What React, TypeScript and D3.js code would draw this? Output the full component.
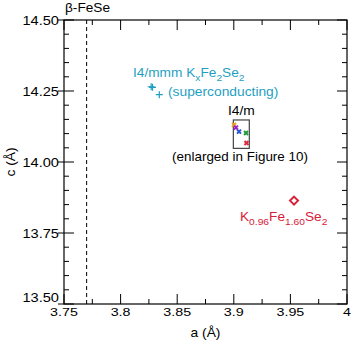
import React from "react";
import * as d3 from "d3";

// chart data
const xTicks = [3.75, 3.8, 3.85, 3.9, 3.95, 4];
const xTickLabels = ["3.75", "3.8", "3.85", "3.9", "3.95", "4"];
const yTicks = [13.5, 13.75, 14.0, 14.25, 14.5];
const betaFeSeA = 3.77;

// I4/mmm KxFe2Se2 (superconducting)
const i4mmmA = [3.827, 3.8282, 3.8342];
const i4mmmC = [14.265, 14.263, 14.237];

// I4/m points (inside the enlarged box)
const i4mA = [3.9002, 3.9019, 3.9046, 3.9108, 3.9112];
const i4mC = [14.13, 14.121, 14.107, 14.102, 14.067];
const i4mColors = ["#e8a020", "#9a20c8", "#2456d0", "#1f9a3a", "#e0283c"];
const boxA = [3.8996, 3.9137];
const boxC = [14.048, 14.148];

// K0.96Fe1.60Se2
const k096A = 3.9532;
const k096C = 13.864;

const W = 353;
const H = 344;
const m = { left: 64, right: 6, top: 20, bottom: 40 };
const font = "'Liberation Sans', Arial, sans-serif";

// text that is stretched sideways like the reference's
const T = ({ x, y, fs = 12, sx = 1.12, anchor = "start", fill = "#000", children }: any) => (
  <text transform={`translate(${x},${y}) scale(${sx},1)`} fontSize={fs} textAnchor={anchor} fill={fill}>
    {children}
  </text>
);

const App = () => {
  const x = d3.scaleLinear().domain([3.75, 4]).range([m.left, W - m.right]);
  const y = d3.scaleLinear().domain([13.5, 14.5]).range([H - m.bottom, m.top]);
  const x0 = x.range()[0], x1 = x.range()[1];
  const y0 = y.range()[0], y1 = y.range()[1];

  const xMinor = d3.range(3.75, 4.0001, 0.025);
  const yMinor = d3.range(13.5, 14.5001, 0.05);
  const isMajorX = (v) => xTicks.some((t) => Math.abs(t - v) < 1e-6);
  const isMajorY = (v) => yTicks.some((t) => Math.abs(t - v) < 1e-6);

  const cyan = "#1f9fc2";
  const red = "#d8203a";

  return (
    <svg width={W} height={H} style={{ position: "absolute", left: 0, top: 0, background: "#fff" }} fontFamily={font}>
      {/* ticks */}
      {xMinor.map((v, i) => {
        const len = isMajorX(v) ? 10 : 5;
        return (
          <g key={"xt" + i} stroke="#000" strokeWidth={1}>
            <line x1={x(v)} x2={x(v)} y1={y0} y2={y0 - len} />
            <line x1={x(v)} x2={x(v)} y1={y1} y2={y1 + len} />
          </g>
        );
      })}
      {yMinor.map((v, i) => {
        const len = isMajorY(v) ? 10 : 5;
        return (
          <g key={"yt" + i} stroke="#000" strokeWidth={1}>
            <line x1={x0 - (isMajorY(v) ? 6 : 0)} x2={x0 + len} y1={y(v)} y2={y(v)} />
            <line x1={x1} x2={x1 - len} y1={y(v)} y2={y(v)} />
          </g>
        );
      })}
      {/* frame */}
      <rect x={x0} y={y1} width={x1 - x0} height={y0 - y1} fill="none" stroke="#000" strokeWidth={1.2} />

      {/* tick labels */}
      {xTicks.map((v, i) => (
        <T key={"xl" + v} x={x(v)} y={y0 + 12} fs={11} sx={1.3} anchor="middle">{xTickLabels[i]}</T>
      ))}
      {yTicks.map((v, i) => (
        <T key={"yl" + v} x={x0 - 5} y={y(v) + (i === 0 ? -2 : 4.5)} fs={12} sx={1.22} anchor="end">
          {v.toFixed(2)}
        </T>
      ))}

      {/* axis titles */}
      <T x={(x0 + x1) / 2} y={H - 7} fs={12} sx={1.15} anchor="middle">a (Å)</T>
      <text transform={`translate(15,${(y0 + y1) / 2}) rotate(-90) scale(1.15,1)`} fontSize={12} textAnchor="middle">c (Å)</text>

      {/* beta-FeSe dashed line */}
      <line x1={x(betaFeSeA)} x2={x(betaFeSeA)} y1={y1} y2={y0} stroke="#000" strokeWidth={1} strokeDasharray="4,3" />
      <T x={65} y={12} fs={12} sx={1.14}>β-FeSe</T>

      {/* I4/mmm pluses */}
      {i4mmmA.map((a, i) => (
        <path key={"p" + i} d={`M${x(a) - 3.5},${y(i4mmmC[i])}h7M${x(a)},${y(i4mmmC[i]) - 3.5}v7`} stroke={cyan} strokeWidth={1.2} />
      ))}
      <T x={133} y={77} fs={12} sx={1.14} fill={cyan}>
        I4/mmm K<tspan fontSize={9} dy={3.5}>x</tspan>
        <tspan dy={-3.5}>Fe</tspan><tspan fontSize={9} dy={3.5}>2</tspan>
        <tspan dy={-3.5}>Se</tspan><tspan fontSize={9} dy={3.5}>2</tspan>
      </T>
      <T x={168} y={96} fs={12} sx={1.15} fill={cyan}>(superconducting)</T>

      {/* I4/m box */}
      <T x={x((boxA[0] + boxA[1]) / 2)} y={115} fs={12} sx={1.15} anchor="middle">I4/m</T>
      <rect x={x(boxA[0])} y={y(boxC[1])} width={x(boxA[1]) - x(boxA[0])} height={y(boxC[0]) - y(boxC[1])}
        fill="none" stroke="#444" strokeWidth={1.2} />
      {i4mA.map((a, i) => (
        <path key={"m" + i} d={`M${x(a) - 2},${y(i4mC[i]) - 2}l4,4M${x(a) + 2},${y(i4mC[i]) - 2}l-4,4`}
          stroke={i4mColors[i]} strokeWidth={2} />
      ))}
      <T x={240} y={161} fs={12} sx={1.12} anchor="middle">(enlarged in Figure 10)</T>

      {/* K0.96Fe1.60Se2 diamond */}
      <path d={`M${x(k096A)},${y(k096C) - 4}l4,4l-4,4l-4,-4z`} fill="none" stroke={red} strokeWidth={2} />
      <T x={240} y={221} fs={12} sx={1.14} fill={red}>
        K<tspan fontSize={9} dy={4}>0.96</tspan>
        <tspan dy={-4}>Fe</tspan><tspan fontSize={9} dy={4}>1.60</tspan>
        <tspan dy={-4}>Se</tspan><tspan fontSize={9} dy={4}>2</tspan>
      </T>
    </svg>
  );
};

export default App;
